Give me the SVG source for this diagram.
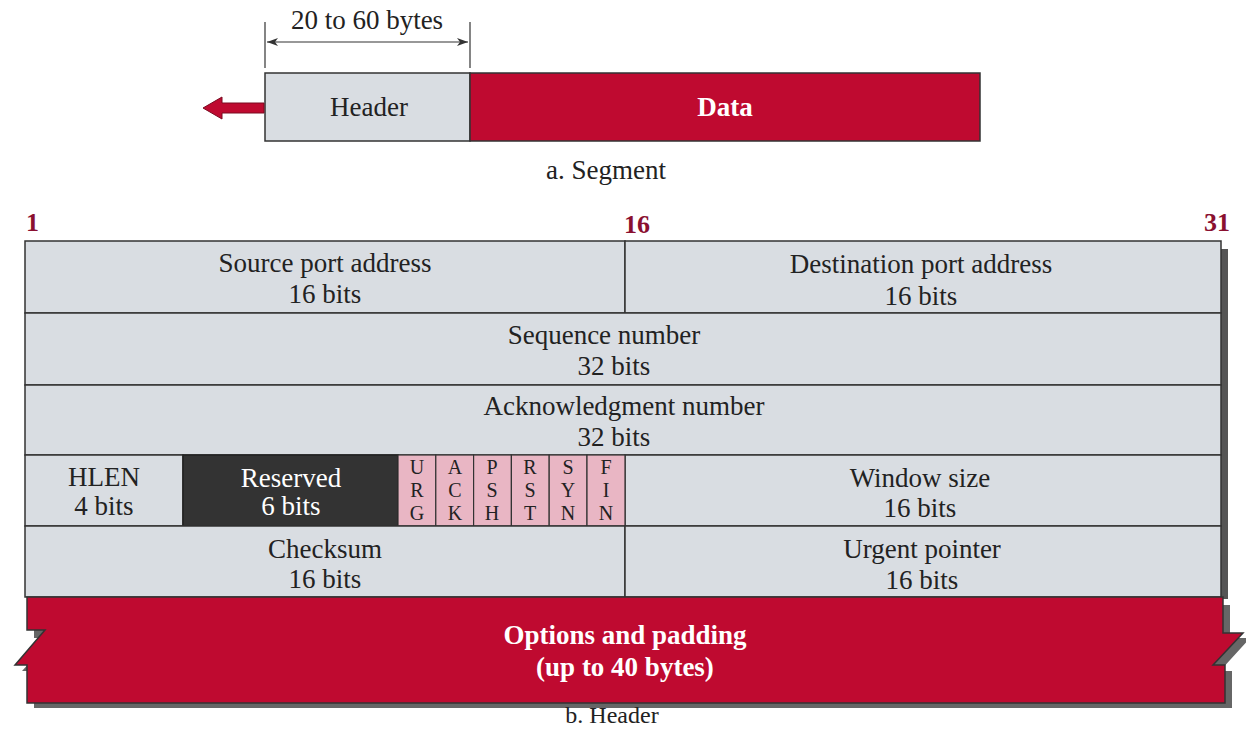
<svg xmlns="http://www.w3.org/2000/svg" width="1246" height="729" viewBox="0 0 1246 729">
<defs>
<style>
.t{font-family:"Liberation Serif","Times New Roman",serif;font-size:27px;fill:#222;text-anchor:middle}
.w{fill:#fff}
.b{font-weight:bold}
.num{font-family:"Liberation Serif",serif;font-size:26px;font-weight:bold;fill:#8a1030}
.cell{fill:#d9dde2;stroke:#333;stroke-width:1.5}
.red{fill:#bf0a30;stroke:#333;stroke-width:1.5}
.flag{fill:#e9b6c4;stroke:#333;stroke-width:1.2}
.fl{font-family:"Liberation Serif",serif;font-size:20px;fill:#222;text-anchor:middle}
.dim{stroke:#333;stroke-width:1.2;fill:none}
</style>
<marker id="ah" markerWidth="12" markerHeight="10" refX="11" refY="5" orient="auto-start-reverse" markerUnits="userSpaceOnUse">
<path d="M0,1 L11,5 L0,9 L3,5 Z" fill="#333"/>
</marker>
</defs>
<rect width="1246" height="729" fill="#fff"/>

<g id="segment">
<rect x="265" y="73" width="205" height="68" class="cell"/>
<rect x="470" y="73" width="510" height="68" class="red"/>
<text x="369" y="116" class="t">Header</text>
<text x="725" y="116" class="t w b">Data</text>
<text x="606" y="179" class="t">a. Segment</text>
</g>

<g id="connectors">
<line x1="265" y1="22" x2="265" y2="68" class="dim"/>
<line x1="470" y1="22" x2="470" y2="68" class="dim"/>
<line x1="267" y1="42" x2="468" y2="42" class="dim" marker-start="url(#ah)" marker-end="url(#ah)"/>
<path d="M264,103 L222,103 L222,97 L203,108 L222,119 L222,113 L264,113 Z" fill="#bf0a30" stroke="#7a0a20" stroke-width="1"/>
</g>
<text x="367" y="29" class="t">20 to 60 bytes</text>

<g id="labels">
<text x="26" y="231" class="num">1</text>
<text x="624" y="233" class="num">16</text>
<text x="1204" y="231" class="num">31</text>
</g>

<!-- shadow -->
<rect x="1221" y="249" width="7" height="350" fill="#555"/>

<g id="row1">
<rect x="25" y="241" width="600" height="72" class="cell"/>
<rect x="625" y="241" width="596" height="72" class="cell"/>
<text x="325" y="272" class="t">Source port address</text>
<text x="325" y="303" class="t">16 bits</text>
<text x="921" y="273" class="t">Destination port address</text>
<text x="921" y="305" class="t">16 bits</text>
</g>
<g id="row2">
<rect x="25" y="313" width="1196" height="72" class="cell"/>
<text x="604" y="344" class="t">Sequence number</text>
<text x="614" y="375" class="t">32 bits</text>
</g>
<g id="row3">
<rect x="25" y="385" width="1196" height="70" class="cell"/>
<text x="624" y="415" class="t">Acknowledgment number</text>
<text x="614" y="446" class="t">32 bits</text>
</g>
<g id="row4">
<rect x="25" y="455" width="158" height="71" class="cell"/>
<rect x="183" y="455" width="215" height="71" fill="#333" stroke="#222" stroke-width="1.5"/>
<rect x="625" y="455" width="596" height="71" class="cell"/>
<text x="104" y="486" class="t">HLEN</text>
<text x="104" y="515" class="t">4 bits</text>
<text x="291" y="487" class="t w">Reserved</text>
<text x="291" y="515" class="t w">6 bits</text>
<text x="920" y="487" class="t">Window size</text>
<text x="920" y="517" class="t">16 bits</text>
<g id="flags">
<rect x="398" y="455" width="37.8" height="71" class="flag"/>
<rect x="435.8" y="455" width="37.8" height="71" class="flag"/>
<rect x="473.6" y="455" width="37.8" height="71" class="flag"/>
<rect x="511.4" y="455" width="37.8" height="71" class="flag"/>
<rect x="549.2" y="455" width="37.8" height="71" class="flag"/>
<rect x="587" y="455" width="38" height="71" class="flag"/>
<text class="fl"><tspan x="417" y="474">U</tspan><tspan x="417" y="497">R</tspan><tspan x="417" y="520">G</tspan></text>
<text class="fl"><tspan x="455" y="474">A</tspan><tspan x="455" y="497">C</tspan><tspan x="455" y="520">K</tspan></text>
<text class="fl"><tspan x="492" y="474">P</tspan><tspan x="492" y="497">S</tspan><tspan x="492" y="520">H</tspan></text>
<text class="fl"><tspan x="530" y="474">R</tspan><tspan x="530" y="497">S</tspan><tspan x="530" y="520">T</tspan></text>
<text class="fl"><tspan x="568" y="474">S</tspan><tspan x="568" y="497">Y</tspan><tspan x="568" y="520">N</tspan></text>
<text class="fl"><tspan x="606" y="474">F</tspan><tspan x="606" y="497">I</tspan><tspan x="606" y="520">N</tspan></text>
</g>
</g>
<g id="row5">
<rect x="25" y="526" width="600" height="71" class="cell"/>
<rect x="625" y="526" width="596" height="71" class="cell"/>
<text x="325" y="558" class="t">Checksum</text>
<text x="325" y="588" class="t">16 bits</text>
<text x="922" y="558" class="t">Urgent pointer</text>
<text x="922" y="589" class="t">16 bits</text>
</g>
<g id="options">
<path d="M34,605 L1230,605 L1230,638 L1250,638 L1220,671 L1232,671 L1232,708 L34,708 L34,671 L22,671 L52,638 L34,638 Z" fill="#666"/>
<path d="M27,597 L1223,597 L1223,633 L1243,633 L1213,665 L1225,665 L1225,703 L27,703 L27,665 L15,665 L45,630 L27,630 Z" class="red"/>
<text x="625" y="644" class="t w b">Options and padding</text>
<text x="625" y="676" class="t w b">(up to 40 bytes)</text>
</g>
<text x="612" y="723" class="t" style="font-size:24px">b. Header</text>
</svg>
